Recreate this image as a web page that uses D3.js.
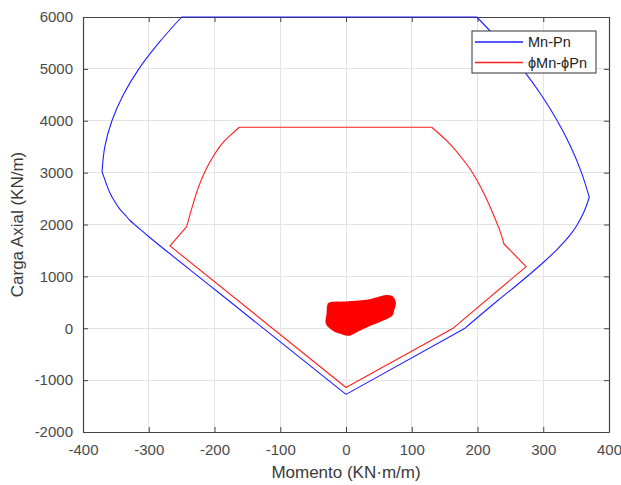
<!DOCTYPE html>
<html>
<head>
<meta charset="utf-8">
<script src="https://cdn.jsdelivr.net/npm/d3@7"></script>
<style>
  html, body { margin: 0; padding: 0; background: #fff; }
  svg { display: block; font-family: "Liberation Sans", Arial, Helvetica, sans-serif; }
</style>
</head>
<body>
<svg id="chart" width="621" height="485"></svg>
<script>
// ---- Data ----
const mnPnMoment = [0, -196.7, -298, -318, -328.5, -336, -343.7, -351.3, -359, -365, -371, -366.8, -356, -338.7, -315, -284.8, -250, 199, 235.7, 268.3, 296.8, 321.3, 341.8, 358.2, 370, 362, 351, 340, 322, 300, 275, 254, 229, 181, 0];
const mnPnAxial  = [-1275, 718, 1745, 1962, 2077, 2184, 2290, 2434, 2607, 2800, 3020, 3500, 4000, 4500, 5000, 5500, 6000, 6000, 5500, 5000, 4500, 4000, 3500, 3000, 2526, 2246, 1982, 1784, 1532, 1268, 993, 772, 515, 2, -1275];
// indices where the Mn-Pn curve has corners
const mnPnCorners = [0, 10, 16, 17, 24, 33, 34];

const phiMoment = [0, -267.7, -242.3, -233.8, -224.1, -213.4, -202.3, -188.1, -172.6, -162.3, 130.3, 157.1, 178.6, 192.9, 209.6, 223.3, 235.4, 240.3, 274, 163, 0];
const phiAxial  = [-1142, 1588, 1957, 2343, 2729, 3051, 3307, 3565, 3758, 3874, 3874, 3565, 3243, 2987, 2601, 2216, 1830, 1624, 1189, 2, -1142];
const phiCorners = [0, 1, 2, 9, 10, 17, 18, 19, 20];

// outline of the dense cloud of red load points
const loadMoment = [-24.3, -5, 15, 33.9, 48, 61.9, 70, 74.5, 72, 69.5, 55, 36.5, 20, 3.5, -8, -19.3, -29.4, -28, -26.9];
const loadAxial  = [483, 495, 510, 534, 580, 624, 600, 483, 360, 258, 160, 66, -30, -127, -90, -31, 98, 280, 451];

const xTicks = [-400, -300, -200, -100, 0, 100, 200, 300, 400];
const yTicks = [-2000, -1000, 0, 1000, 2000, 3000, 4000, 5000, 6000];

const legendLabels = ["Mn-Pn", "ϕMn-ϕPn"];
const seriesColors = ["#1f1fff", "#ff1f1f"];

// ---- Layout ----
const W = 621, H = 485;
const margin = { left: 83, top: 17, right: 12, bottom: 53 };
const iw = W - margin.left - margin.right;
const ih = H - margin.top - margin.bottom;

const svg = d3.select("#chart");
svg.append("rect").attr("width", W).attr("height", H).attr("fill", "#fff");
const g = svg.append("g").attr("transform", `translate(${margin.left},${margin.top})`);

const x = d3.scaleLinear().domain([-400, 400]).range([0, iw]);
const y = d3.scaleLinear().domain([-2000, 6000]).range([ih, 0]);

// grid
g.append("g").selectAll("line").data(xTicks.slice(1, -1)).join("line")
  .attr("x1", d => x(d)).attr("x2", d => x(d)).attr("y1", 0).attr("y2", ih)
  .attr("stroke", "#e3e3e3").attr("stroke-width", 1).attr("shape-rendering", "crispEdges");
g.append("g").selectAll("line").data(yTicks.slice(1, -1)).join("line")
  .attr("y1", d => y(d)).attr("y2", d => y(d)).attr("x1", 0).attr("x2", iw)
  .attr("stroke", "#e3e3e3").attr("stroke-width", 1).attr("shape-rendering", "crispEdges");

// axes
const axColor = "#444";
const tickLen = 5;
const fmt = d => String(d);
const xAxis = g.append("g").attr("transform", `translate(0,${ih})`)
  .call(d3.axisBottom(x).tickValues(xTicks).tickSizeInner(-tickLen).tickSizeOuter(0).tickPadding(12).tickFormat(fmt));
const xAxisTop = g.append("g")
  .call(d3.axisTop(x).tickValues(xTicks).tickSizeInner(-tickLen).tickSizeOuter(0).tickFormat(""));
const yAxis = g.append("g")
  .call(d3.axisLeft(y).tickValues(yTicks).tickSizeInner(-tickLen).tickSizeOuter(0).tickPadding(10).tickFormat(fmt));
const yAxisRight = g.append("g").attr("transform", `translate(${iw},0)`)
  .call(d3.axisRight(y).tickValues(yTicks).tickSizeInner(-tickLen).tickSizeOuter(0).tickFormat(""));

[xAxis, xAxisTop, yAxis, yAxisRight].forEach(a => {
  a.selectAll(".domain").attr("stroke", axColor).attr("stroke-width", 1.2);
  a.selectAll(".tick line").attr("stroke", axColor).attr("stroke-width", 1);
  a.selectAll(".tick text").attr("fill", "#4a4a4a").style("font-size", "15px")
    .style("font-family", "'Liberation Sans', Arial, sans-serif");
});

// axis titles
svg.append("text")
  .attr("x", margin.left + iw / 2).attr("y", 478)
  .attr("text-anchor", "middle").attr("fill", "#3a3a3a")
  .style("font-size", "17px").text("Momento (KN·m/m)");
svg.append("text")
  .attr("transform", `translate(23,${margin.top + ih / 2}) rotate(-90)`)
  .attr("text-anchor", "middle").attr("fill", "#3a3a3a")
  .style("font-size", "17px").text("Carga Axial (KN/m)");

// series: smooth pieces between corner points
const smooth = d3.line().x(d => x(d[0])).y(d => y(d[1])).curve(d3.curveCatmullRom.alpha(0.5));
function piecewise(pts, corners) {
  let d = "";
  for (let k = 0; k < corners.length - 1; k++) {
    const s = smooth(pts.slice(corners[k], corners[k + 1] + 1));
    d += k === 0 ? s : "L" + s.slice(1);
  }
  return d;
}
const blue = mnPnMoment.map((m, i) => [m, mnPnAxial[i]]);
const red = phiMoment.map((m, i) => [m, phiAxial[i]]);
const cloud = loadMoment.map((m, i) => [m, loadAxial[i]]);

g.append("path").attr("d", piecewise(blue, mnPnCorners))
  .attr("fill", "none").attr("stroke", seriesColors[0]).attr("stroke-width", 1.1).attr("stroke-linejoin", "round");
g.append("path").attr("d", piecewise(red, phiCorners))
  .attr("fill", "none").attr("stroke", seriesColors[1]).attr("stroke-width", 1.1).attr("stroke-linejoin", "round");
g.append("path").datum(cloud)
  .attr("d", d3.line().x(d => x(d[0])).y(d => y(d[1])).curve(d3.curveCatmullRomClosed.alpha(0.5)))
  .attr("fill", "#ff0000").attr("stroke", "#ff0000").attr("stroke-width", 2).attr("stroke-linejoin", "round");

// legend
const lg = svg.append("g").attr("transform", "translate(472,31)");
lg.append("rect").attr("width", 124).attr("height", 42)
  .attr("fill", "#fff").attr("stroke", "#333").attr("stroke-width", 1);
legendLabels.forEach((lab, i) => {
  const yy = 11 + i * 20.5;
  lg.append("line").attr("x1", 3).attr("x2", 51).attr("y1", yy).attr("y2", yy)
    .attr("stroke", seriesColors[i]).attr("stroke-width", 1.3);
  lg.append("text").attr("x", 56).attr("y", yy + 5).attr("fill", "#222")
    .style("font-size", "14.5px").text(lab);
});
</script>
</body>
</html>
